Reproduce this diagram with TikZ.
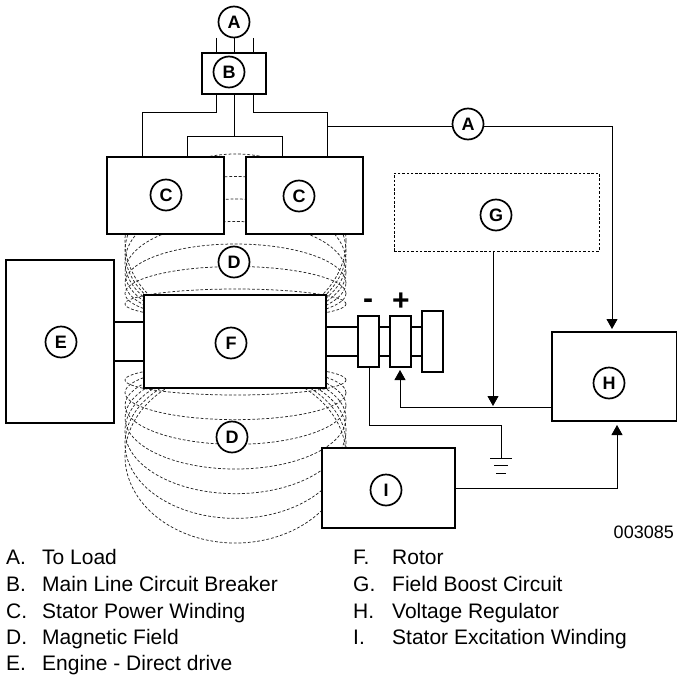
\documentclass[tikz,border=0pt]{standalone}
\usepackage{fontspec}
\setmainfont{Liberation Sans}
\usepackage{tikz}
\usetikzlibrary{arrows.meta}

\begin{document}
\begin{tikzpicture}[
    x=1pt, y=-1pt,
    font=\fontsize{18}{20}\selectfont,
    box/.style={draw, line width=2.5pt, fill=white, inner sep=0pt, outer sep=0pt},
    boost/.style={draw, line width=.9pt, dash pattern=on 2.5pt off 1.8pt, inner sep=0pt, outer sep=0pt},
    letter/.style={draw, circle, fill=white, line width=1.7pt, minimum size=31pt, inner sep=0pt, font=\fontsize{18}{18}\selectfont\bfseries},
    wire/.style={line width=.9pt},
    shaft/.style={line width=2.5pt},
    fieldline/.style={line width=.75pt, dash pattern=on 2.8pt off 1.9pt, black!85},
    arrow/.style={wire, -{Triangle[width=11pt, length=10pt]}},
    legend/.style={anchor=base west, inner sep=0pt, font=\fontsize{21}{23}\selectfont},
    sign/.style={font=\fontsize{30}{30}\selectfont\bfseries, inner sep=0pt}
]
    \useasboundingbox (0,0) rectangle (677,677);

    % magnetic field, behind the boxes
    \foreach \i in {0,...,6} {
        \draw[fieldline] (235.5, 304-10.5*\i) ellipse [x radius=110.5pt, y radius={15pt+12pt*\i}];
        \draw[fieldline] (235.5, 380+12.67*\i) ellipse [x radius=110.5pt, y radius={15pt+12pt*\i}];
    }

    % shafts
    \draw[shaft] (114,322) -- (144,322) (114,361) -- (144,361);
    \draw[shaft] (326,327) -- (422,327) (326,356) -- (422,356);

    % boxes
    \foreach \name/\cx/\cy/\w/\h in {boxB/234/73.5/64/41, boxCl/165.5/195.5/117/77, boxCr/304.5/195.5/117/77,
        boxE/60/341.5/108/163, boxF/235/341.5/182/93, boxM/368.5/341.5/21/51, boxP/400.5/341.5/21/51,
        boxR/432.5/341.5/21/61, boxH/614.5/376.5/125/89, boxI/388.5/488/133/80} {
        \node[box, minimum width=\w pt, minimum height=\h pt] (\name) at (\cx,\cy) {};
    }
    \node[boost, minimum width=205pt, minimum height=78pt] (boxG) at (496.5,212) {};

    \coordinate (jctR) at (327,126);
    \coordinate (tipH) at (612,329);
    \coordinate (tipP) at (400,370);
    \coordinate (tipJ) at (493,406);
    \coordinate (tipI) at (617,425);
    \coordinate (gndTop) at (501,425);
    \coordinate (gnd) at (501,458);

    % wires
    \draw[wire] (216,38) -- (216,53) (234,38) -- (234,53) (253,38) -- (253,53);
    \draw[wire] (216,94) |- (142,112) -- (142,157);
    \draw[wire] (234,94) -- (234,136);
    \draw[wire] (187,157) |- (282,136) -- (282,157);
    \draw[wire] (253,94) |- (327,112) -- (327,157);
    \draw[arrow] (jctR) -| (tipH);
    \draw[arrow] (boxH.west |- tipP) ++(0,37) -| (tipP);
    \draw[arrow] (boxG.south -| tipJ) -- (tipJ);
    \draw[arrow] (boxI.east) -| (tipI);
    \draw[wire] (369,368) |- (gndTop) -- (gnd);
    \draw[wire] (490,458) -- (512,458) (494,465.5) -- (508,465.5) (496,473) -- (506,473);

    % letters
    \foreach \name/\cx/\cy/\ltr in {markA/234/22/A, markB/229/72/B, markAr/468/124/A, markCl/166/195/C, markCr/299/196/C,
        markG/496/215/G, markDu/234/262/D, markE/61/342/E, markF/231/343/F, markH/609/383/H, markDl/232/437/D, markI/386/490/I} {
        \node[letter] (\name) at (\cx,\cy) {\ltr};
    }

    \node[sign] (minus) at (368,304) {-};
    \node[sign] (plus) at (401,302) {+};
    \node[anchor=base east, inner sep=0pt] (code) at (674,538) {003085};

    % legend
    \foreach \y/\ltr/\txt in {564/A./To Load, 591/B./Main Line Circuit Breaker, 618/C./Stator Power Winding,
        644/D./Magnetic Field, 670/E./Engine - Direct drive} {
        \node[legend] at (6,\y) {\ltr};
        \node[legend] at (42,\y) {\txt};
    }
    \foreach \y/\ltr/\txt in {564/F./Rotor, 591/G./Field Boost Circuit, 618/H./Voltage Regulator, 644/I./Stator Excitation Winding} {
        \node[legend] at (353,\y) {\ltr};
        \node[legend] at (392,\y) {\txt};
    }
\end{tikzpicture}
\end{document}
